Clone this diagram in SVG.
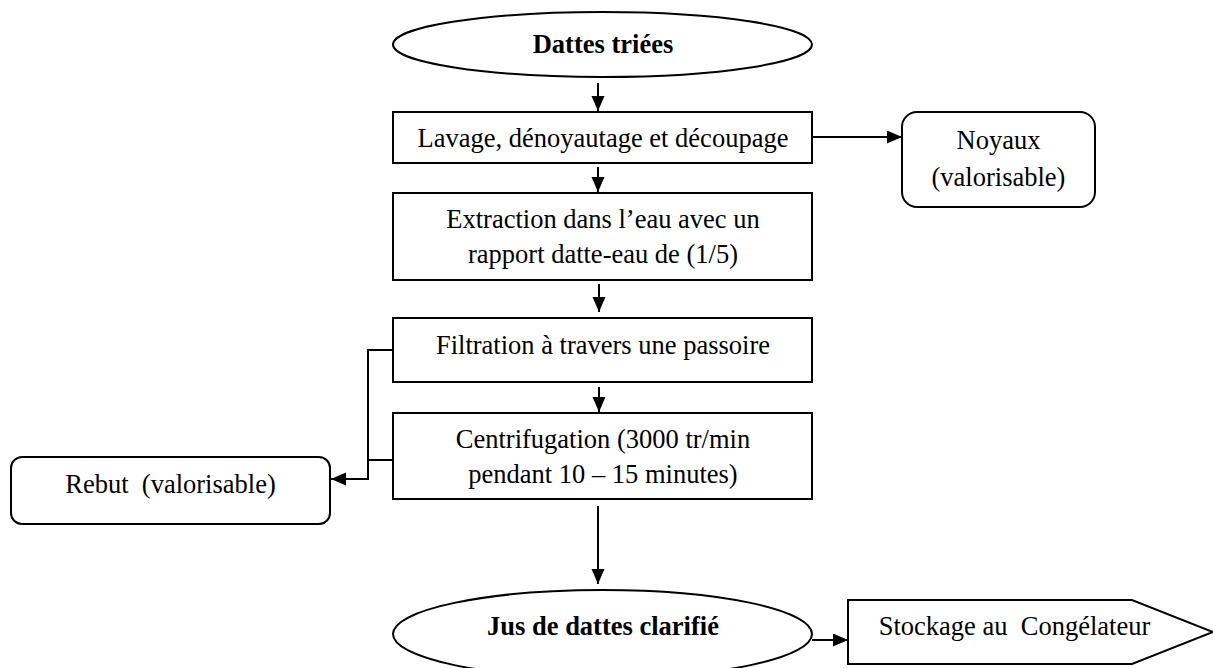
<svg xmlns="http://www.w3.org/2000/svg" width="1213" height="668" viewBox="0 0 1213 668">
<style>
.box{fill:#fff;stroke:#000;stroke-width:2}
.ln{fill:none;stroke:#000;stroke-width:2}
.t{font-family:"Liberation Serif","Times New Roman",serif;font-size:26.5px;fill:#000;text-anchor:middle}
.b{font-weight:bold}
</style>
<defs>
<marker id="ah" markerUnits="userSpaceOnUse" markerWidth="16" markerHeight="14" refX="15" refY="6.5" orient="auto">
<path d="M0,0 L15,6.5 L0,13 z" fill="#000"/>
</marker>
</defs>
<rect width="1213" height="668" fill="#fff"/>
<g id="connectors">
<line class="ln" x1="598" y1="83" x2="598" y2="111" marker-end="url(#ah)"/>
<line class="ln" x1="598" y1="167" x2="598" y2="192" marker-end="url(#ah)"/>
<line class="ln" x1="599" y1="284" x2="599" y2="312" marker-end="url(#ah)"/>
<line class="ln" x1="599" y1="387" x2="599" y2="412" marker-end="url(#ah)"/>
<line class="ln" x1="598" y1="506" x2="598" y2="584" marker-end="url(#ah)"/>
<line class="ln" x1="812" y1="137" x2="902" y2="137" marker-end="url(#ah)"/>
<line class="ln" x1="812" y1="640" x2="848" y2="640" marker-end="url(#ah)"/>
<polyline class="ln" points="393,350 368,350 368,479 331,479" marker-end="url(#ah)"/>
<line class="ln" x1="368" y1="460" x2="393" y2="460"/>
</g>
<g id="n-dattes">
<ellipse class="box" cx="602.5" cy="44.5" rx="209.5" ry="32.5"/>
<text class="t b" x="603" y="53">Dattes triées</text>
</g>
<g id="n-lavage">
<rect class="box" x="393" y="112" width="419" height="51"/>
<text class="t" x="603" y="147">Lavage, dénoyautage et découpage</text>
</g>
<g id="n-noyaux">
<rect class="box" x="902" y="112" width="193" height="95" rx="15"/>
<text class="t" x="998.5" y="149">Noyaux</text>
<text class="t" x="998.5" y="186">(valorisable)</text>
</g>
<g id="n-extraction">
<rect class="box" x="393" y="193" width="419" height="87"/>
<text class="t" x="603" y="228">Extraction dans l’eau avec un</text>
<text class="t" x="603" y="263">rapport datte-eau de (1/5)</text>
</g>
<g id="n-filtration">
<rect class="box" x="393" y="318" width="419" height="64"/>
<text class="t" x="603" y="354">Filtration à travers une passoire</text>
</g>
<g id="n-centrifugation">
<rect class="box" x="393" y="413" width="419" height="86"/>
<text class="t" x="603" y="448">Centrifugation (3000 tr/min</text>
<text class="t" x="603" y="483">pendant 10 – 15 minutes)</text>
</g>
<g id="n-rebut">
<rect class="box" x="11" y="457" width="319" height="67" rx="11"/>
<text class="t" x="170.5" y="493" xml:space="preserve">Rebut  (valorisable)</text>
</g>
<g id="n-jus">
<ellipse class="box" cx="602.5" cy="634" rx="209.5" ry="44"/>
<text class="t b" x="603" y="635">Jus de dattes clarifié</text>
</g>
<g id="n-stockage">
<polygon class="box" points="848,600 1132,600 1213,632 1132,664 848,664"/>
<text class="t" x="1014.5" y="635" xml:space="preserve">Stockage au  Congélateur</text>
</g>
</svg>
